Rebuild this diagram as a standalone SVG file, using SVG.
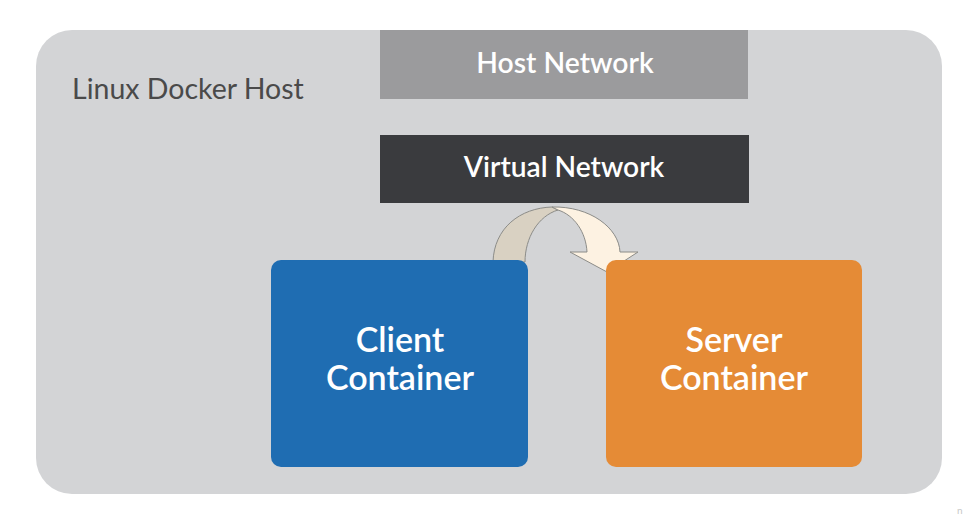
<svg xmlns="http://www.w3.org/2000/svg" width="967" height="518" viewBox="0 0 967 518">
<style>
.t{font-family:Lato,"Open Sans","Liberation Sans",sans-serif;}
.w{fill:#ffffff;text-anchor:middle;font-weight:600;}
.arr{stroke:#8c8c88;stroke-width:1;stroke-linejoin:round;}
</style>
<rect x="0" y="0" width="967" height="518" fill="#ffffff"/>
<g id="host">
<rect x="36" y="30" width="906" height="464" rx="36" fill="#d3d4d6"/>
<text class="t" x="72" y="99" font-size="28.5" fill="#4a4a4a">Linux Docker Host</text>
</g>
<g id="host-network">
<rect x="380" y="30" width="368" height="69" fill="#9b9b9d"/>
<text class="t w" x="565" y="73" font-size="28.3">Host Network</text>
</g>
<g id="virtual-network">
<rect x="380" y="135" width="369" height="68" fill="#3a3b3e"/>
<text class="t w" x="564" y="177" font-size="28.2">Virtual Network</text>
</g>
<g id="connectors">
<path class="arr" d="M 493 262 C 494 228 520 208 552 207 L 558 210 C 538 216 525 238 525 262 Z" fill="#d9d1c2"/>
<path class="arr" d="M 552 207 C 590 206 619 228 620 252 L 638 252 L 607 272 L 570 252 L 587 252 C 586 232 574 215 558 210 Z" fill="#fdf2e2"/>
</g>
<g id="client">
<rect x="271" y="260" width="257" height="207" rx="10" fill="#1f6db2"/>
<text class="t w" x="400" y="352" font-size="34">Client</text>
<text class="t w" x="400" y="390" font-size="34">Container</text>
</g>
<g id="server">
<rect x="606" y="260" width="256" height="207" rx="10" fill="#e58b36"/>
<text class="t w" x="734" y="352" font-size="34">Server</text>
<text class="t w" x="734" y="390" font-size="34">Container</text>
</g>
<text class="t" x="957" y="514" font-size="10" fill="#c8c8c8">n</text>
</svg>
